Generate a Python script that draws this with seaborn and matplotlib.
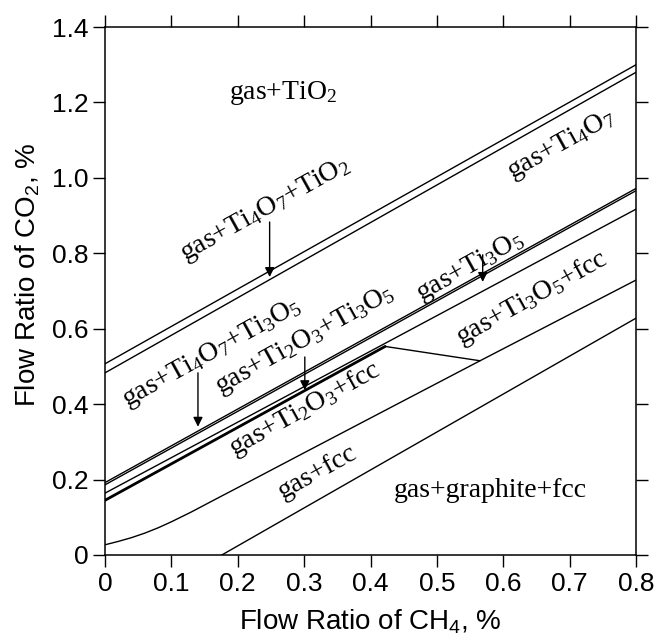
import matplotlib
matplotlib.use("Agg")
import matplotlib.pyplot as plt
import seaborn as sns
import pandas as pd

# ---------------- data ----------------
x_ticks = [0, 0.1, 0.2, 0.3, 0.4, 0.5, 0.6, 0.7, 0.8]
x_tick_labels = ["0", "0.1", "0.2", "0.3", "0.4", "0.5", "0.6", "0.7", "0.8"]
y_ticks = [0, 0.2, 0.4, 0.6, 0.8, 1.0, 1.2, 1.4]
y_tick_labels = ["0", "0.2", "0.4", "0.6", "0.8", "1.0", "1.2", "1.4"]

# phase boundaries (x = CH4 flow ratio, y = CO2 flow ratio)
tio2_upper_x = [0.0, 0.8]
tio2_upper_y = [0.507, 1.300]
tio2_lower_x = [0.0, 0.8]
tio2_lower_y = [0.483, 1.280]
ti4o7_upper_x = [0.0, 0.8]
ti4o7_upper_y = [0.192, 0.972]
ti4o7_lower_x = [0.0, 0.8]
ti4o7_lower_y = [0.186, 0.966]
ti3o5_fcc_x = [0.0, 0.8]
ti3o5_fcc_y = [0.164, 0.917]
ti2o3_x = [0.0, 0.422]
ti2o3_y = [0.145, 0.553]
kink_x = [0.422, 0.565]
kink_y = [0.553, 0.515]
fcc_curve_x = [0.0, 0.02, 0.04, 0.06, 0.08, 0.10, 0.13, 0.171, 0.22, 0.30, 0.44, 0.565, 0.8]
fcc_curve_y = [0.027, 0.036, 0.046, 0.058, 0.072, 0.088, 0.114, 0.152, 0.197, 0.271, 0.400, 0.515, 0.729]
graphite_x = [0.176, 0.8]
graphite_y = [0.0, 0.628]

boundaries = {
    "TiO2 upper": (tio2_upper_x, tio2_upper_y),
    "TiO2 lower": (tio2_lower_x, tio2_lower_y),
    "Ti4O7 upper": (ti4o7_upper_x, ti4o7_upper_y),
    "Ti4O7 lower": (ti4o7_lower_x, ti4o7_lower_y),
    "Ti3O5/fcc": (ti3o5_fcc_x, ti3o5_fcc_y),
    "kink": (kink_x, kink_y),
    "fcc curve": (fcc_curve_x, fcc_curve_y),
    "graphite": (graphite_x, graphite_y),
}

rows = []
for name, (xs, ys) in boundaries.items():
    for xv, yv in zip(xs, ys):
        rows.append({"CH4": xv, "CO2": yv, "boundary": name})
df = pd.DataFrame(rows)
df_thick = pd.DataFrame({"CH4": ti2o3_x, "CO2": ti2o3_y, "boundary": "Ti2O3"})

# labels: text, x, y, rotation
region_labels = ["gas+TiO$_2$", "gas+Ti$_4$O$_7$+TiO$_2$", "gas+Ti$_4$O$_7$",
                 "gas+Ti$_3$O$_5$", "gas+Ti$_4$O$_7$+Ti$_3$O$_5$",
                 "gas+Ti$_2$O$_3$+Ti$_3$O$_5$", "gas+Ti$_2$O$_3$+fcc",
                 "gas+Ti$_3$O$_5$+fcc", "gas+fcc", "gas+graphite+fcc"]
label_x = [0.268, 0.241, 0.688, 0.55, 0.161, 0.301, 0.301, 0.643, 0.32, 0.58]
label_y = [1.225, 0.915, 1.088, 0.765, 0.536, 0.57, 0.385, 0.68, 0.22, 0.17]
label_rot = [0, 29, 29, 29, 29, 29, 29, 29, 29, 0]

# arrows: start (x, y) -> tip (x, y)
arrow_x = [0.248, 0.569, 0.140, 0.301]
arrow_y0 = [0.883, 0.796, 0.483, 0.525]
arrow_y1 = [0.737, 0.724, 0.340, 0.437]

# ---------------- figure ----------------
sns.set_theme(style="ticks")
plt.rcParams["font.family"] = ["Liberation Sans", "DejaVu Sans"]
plt.rcParams["mathtext.default"] = "regular"

fig = plt.figure(figsize=(6.54, 6.39), dpi=100)
ax = fig.add_axes([0.1606, 0.1315, 0.8119, 0.8262])

sns.lineplot(data=df, x="CH4", y="CO2", units="boundary", estimator=None,
             sort=False, color="black", linewidth=1.0, ax=ax, legend=False)
sns.lineplot(data=df_thick, x="CH4", y="CO2", units="boundary", estimator=None,
             sort=False, color="black", linewidth=2.0, ax=ax, legend=False)

serif = ["Liberation Serif", "DejaVu Serif"]
for t, lx, ly, r in zip(region_labels, label_x, label_y, label_rot):
    ax.text(lx, ly, t, rotation=r, rotation_mode="anchor", ha="center",
            va="center", fontsize=20, family=serif, color="black")

for axx, ay0, ay1 in zip(arrow_x, arrow_y0, arrow_y1):
    ax.annotate("", xy=(axx, ay1), xytext=(axx, ay0),
                arrowprops=dict(arrowstyle="-|>", color="black", lw=1.0,
                                mutation_scale=14, shrinkA=0, shrinkB=0))

ax.set_xlim(0, 0.8)
ax.set_ylim(0, 1.4)
ax.set_xticks(x_ticks)
ax.set_xticklabels(x_tick_labels)
ax.set_yticks(y_ticks)
ax.set_yticklabels(y_tick_labels)
ax.tick_params(axis="both", which="both", direction="out", top=True, right=True,
               labeltop=False, labelright=False, length=8.5, width=1.0,
               labelsize=19, pad=3.5, colors="black")
for sp in ax.spines.values():
    sp.set_visible(True)
    sp.set_linewidth(1.1)
    sp.set_color("black")

ax.set_xlabel("Flow Ratio of CH$_4$, %", fontsize=20, color="black")
ax.set_ylabel("Flow Ratio of CO$_2$, %", fontsize=20, color="black")
ax.xaxis.set_label_coords(0.5, -0.100)
ax.yaxis.set_label_coords(-0.118, 0.53)

fig.savefig("out.png", dpi=100, facecolor="white")
